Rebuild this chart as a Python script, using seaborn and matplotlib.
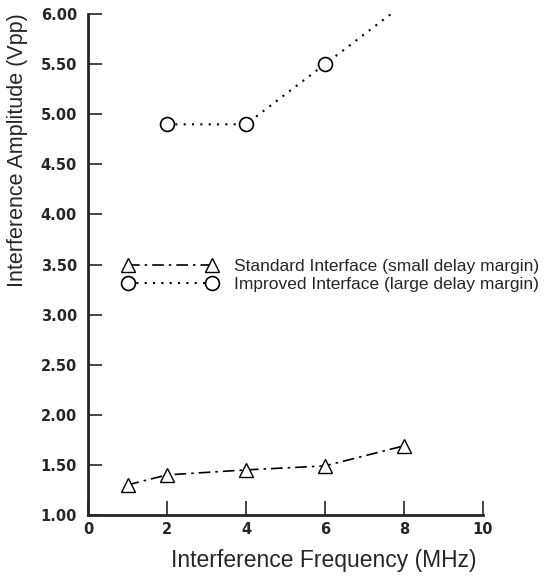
import matplotlib
matplotlib.use('Agg')
import matplotlib.pyplot as plt
import pandas as pd
import seaborn as sns

# values
std_freq = [1, 2, 4, 6, 8]
std_amp = [1.30, 1.40, 1.45, 1.49, 1.69]
imp_freq = [2, 4, 6, 8]
imp_amp = [4.90, 4.90, 5.50, 6.10]

x_ticks = [0, 2, 4, 6, 8, 10]
y_ticks = [1.00, 1.50, 2.00, 2.50, 3.00, 3.50, 4.00, 4.50, 5.00, 5.50, 6.00]

std_label = 'Standard Interface (small delay margin)'
imp_label = 'Improved Interface (large delay margin)'

sns.set_style('ticks')
plt.rcParams['font.family'] = ['Liberation Sans', 'DejaVu Sans']

std = pd.DataFrame({'freq': std_freq, 'amp': std_amp})
imp = pd.DataFrame({'freq': imp_freq, 'amp': imp_amp})

fig = plt.figure(figsize=(5.45, 5.77), dpi=100)
ax = fig.add_axes([0.1615, 0.1075, 0.7245, 0.868])

sns.lineplot(data=std, x='freq', y='amp', ax=ax, color='black', lw=1.2,
             linestyle=(0, (7, 3, 1.5, 3)), marker='^', markersize=10,
             markerfacecolor='white', markeredgecolor='black', markeredgewidth=1.0,
             label=std_label)
sns.lineplot(data=imp, x='freq', y='amp', ax=ax, color='black', lw=1.5,
             linestyle=(0, (1, 3)), marker='o', markersize=10,
             markerfacecolor='white', markeredgecolor='black', markeredgewidth=1.2,
             label=imp_label)

ax.set_xlim(0, 10)
ax.set_ylim(1.0, 6.0)
ax.set_xticks(x_ticks)
ax.set_yticks(y_ticks)
ax.set_yticklabels([f'{v:.2f}' for v in y_ticks])
ax.tick_params(direction='in', length=10, width=1.2)
ax.tick_params(axis='y', pad=8)
ax.tick_params(axis='x', pad=5)
for lab in ax.get_xticklabels() + ax.get_yticklabels():
    lab.set_family('DejaVu Sans')
    lab.set_fontweight('bold')
    lab.set_fontsize(10.5)

sns.despine(ax=ax)
ax.spines['left'].set_linewidth(2)
ax.spines['bottom'].set_linewidth(2)

ax.set_xlabel('Interference Frequency (MHz)', fontsize=16.5)
ax.set_ylabel('Interference Amplitude (Vpp)', fontsize=15.5)
ax.xaxis.set_label_coords(0.597, -0.068)
ax.yaxis.set_label_coords(-0.152, 0.728)

ax.legend(loc='center left', bbox_to_anchor=(0.226, 0.5225), bbox_transform=fig.transFigure,
          frameon=False, numpoints=2, handlelength=5.4, fontsize=12.5,
          handletextpad=1.0, labelspacing=0.2, borderpad=0, borderaxespad=0)

fig.savefig('out.png', dpi=100)
